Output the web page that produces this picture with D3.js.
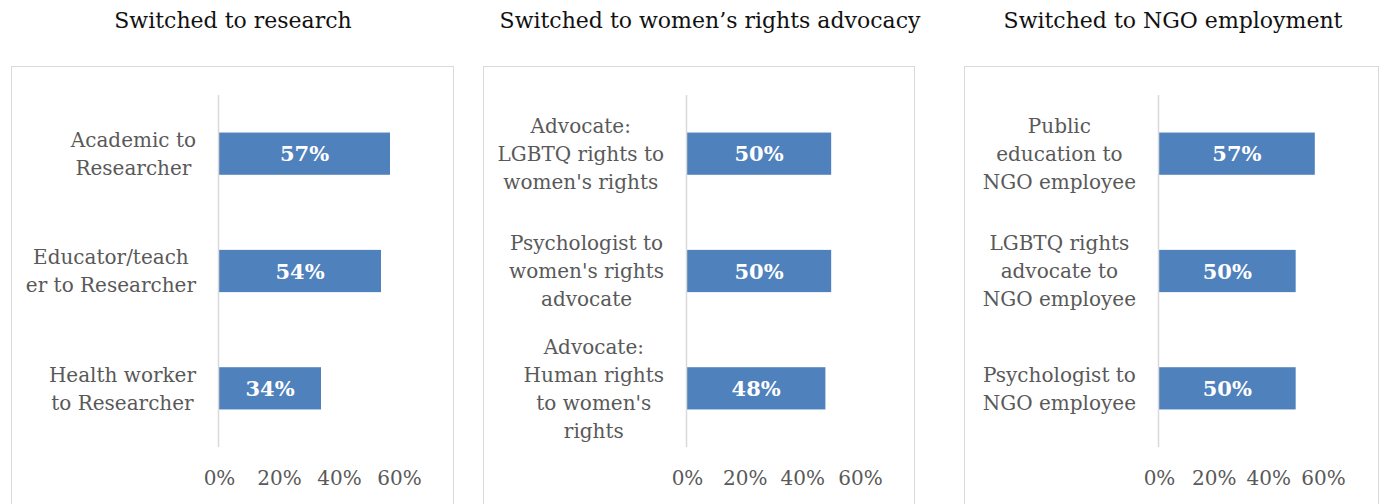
<!DOCTYPE html>
<html>
<head>
<meta charset="utf-8">
<script src="https://cdn.jsdelivr.net/npm/d3@7"></script>
<style>
	body { margin: 0; background: #fff; }
	svg { display: block; }
	text { font-family: "DejaVu Serif", serif; }
</style>
</head>
<body>
<svg></svg>
<script>
// chart data
var titles = ["Switched to research", "Switched to women\u2019s rights advocacy", "Switched to NGO employment"];

var researchCats = [["Academic to", "Researcher"], ["Educator/teach", "er to Researcher"], ["Health worker", "to Researcher"]];
var researchValues = [0.57, 0.54, 0.34];

var advocacyCats = [["Advocate:", "LGBTQ rights to", "women's rights"], ["Psychologist to", "women's rights", "advocate"], ["Advocate:", "Human rights", "to women's", "rights"]];
var advocacyValues = [0.50, 0.50, 0.48];

var ngoCats = [["Public", "education to", "NGO employee"], ["LGBTQ rights", "advocate to", "NGO employee"], ["Psychologist to", "NGO employee"]];
var ngoValues = [0.57, 0.50, 0.50];

var tickValues = [0, 0.2, 0.4, 0.6];

var width = 1384, height = 504;

// where each panel sits
var panels = [
	{ title: titles[0], cats: researchCats, vals: researchValues, box: [11, 453], x0: 219, x1: 399, titleX: 233 },
	{ title: titles[1], cats: advocacyCats, vals: advocacyValues, box: [483, 914], x0: 687, x1: 860, titleX: 710 },
	{ title: titles[2], cats: ngoCats, vals: ngoValues, box: [964, 1378], x0: 1159, x1: 1323, titleX: 1173 }
];

var svg = d3.select("svg")
	.attr("width", width)
	.attr("height", height);

var fmt = d3.format(".0%");

panels.forEach(function(p) {
	var g = svg.append("g");

	// frame
	g.append("rect")
		.attr("x", p.box[0] + 0.5)
		.attr("y", 66.5)
		.attr("width", p.box[1] - p.box[0])
		.attr("height", 480)
		.attr("fill", "none")
		.attr("stroke", "#d9d9d9")
		.attr("stroke-width", 1);

	// title
	g.append("text")
		.attr("x", p.titleX)
		.attr("y", 28)
		.attr("text-anchor", "middle")
		.style("font-size", "22px")
		.attr("fill", "#111")
		.text(p.title);

	var x = d3.scaleLinear()
		.domain([0, 0.6])
		.range([p.x0, p.x1]);

	var y = d3.scaleBand()
		.domain(d3.range(p.vals.length))
		.range([95, 447])
		.paddingInner(0.64)
		.paddingOuter(0.32);

	// x axis (labels only)
	var ax = g.append("g")
		.attr("transform", "translate(0,447)")
		.call(d3.axisBottom(x).tickValues(tickValues).tickFormat(fmt).tickSize(0).tickPadding(24));
	ax.select(".domain").remove();
	ax.selectAll("text")
		.style("font-family", "DejaVu Serif, serif")
		.style("font-size", "20px")
		.attr("fill", "#595959");

	// bars
	g.selectAll("rect.bar")
		.data(p.vals)
		.enter()
		.append("rect")
		.attr("class", "bar")
		.attr("x", x(0))
		.attr("y", function(d, i) { return y(i); })
		.attr("width", function(d) { return x(d) - x(0); })
		.attr("height", y.bandwidth())
		.attr("fill", "#4f81bd");

	// value labels
	g.selectAll("text.val")
		.data(p.vals)
		.enter()
		.append("text")
		.attr("class", "val")
		.attr("x", function(d) { return (x(0) + x(d)) / 2; })
		.attr("y", function(d, i) { return y(i) + y.bandwidth() / 2; })
		.attr("dy", "0.36em")
		.attr("text-anchor", "middle")
		.style("font-size", "21px")
		.style("font-weight", "bold")
		.attr("fill", "#fff")
		.text(fmt);

	// vertical axis line
	g.append("line")
		.attr("x1", x(0) - 0.5)
		.attr("x2", x(0) - 0.5)
		.attr("y1", 95)
		.attr("y2", 447)
		.attr("stroke", "#d9d9d9")
		.attr("stroke-width", 1.5);

	// category labels, wrapped lines centred in a right aligned block
	var rightEdge = x(0) - 23;
	p.cats.forEach(function(lines, i) {
		var cy = y(i) + y.bandwidth() / 2;
		var t = g.append("text")
			.attr("text-anchor", "middle")
			.style("font-size", "20px")
			.attr("fill", "#595959");
		var spans = t.selectAll("tspan")
			.data(lines)
			.enter()
			.append("tspan")
			.attr("y", function(d, j) { return cy + (j - (lines.length - 1) / 2) * 28; })
			.attr("dy", "0.36em")
			.text(function(d) { return d; });
		var maxW = 0;
		spans.each(function() {
			maxW = Math.max(maxW, this.getComputedTextLength());
		});
		spans.attr("x", rightEdge - maxW / 2);
	});
});
</script>
</body>
</html>
